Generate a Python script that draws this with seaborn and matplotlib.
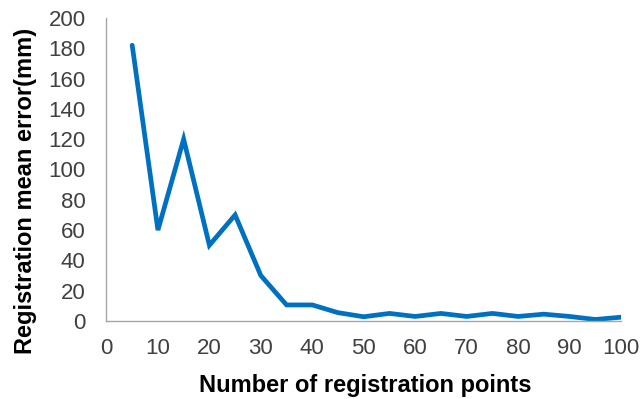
import matplotlib
matplotlib.use("Agg")
import matplotlib.pyplot as plt
import seaborn as sns
import pandas as pd

# Registration points and resulting mean error
points = [5, 10, 15, 20, 25, 30, 35, 40, 45, 50, 55, 60, 65, 70, 75, 80, 85, 90, 95, 100]
errors = [182, 60, 120, 50, 70, 30, 10.6, 10.6, 5.5, 2.8, 5, 3, 5, 3, 5, 3, 4.5, 3, 1, 2.5]
x_ticks = list(range(0, 101, 10))
y_ticks = list(range(0, 201, 20))

sns.set_style("white")
plt.rcParams["font.family"] = ["Liberation Sans", "DejaVu Sans"]

df = pd.DataFrame({"points": points, "error": errors})

fig = plt.figure(figsize=(6.41, 3.99), dpi=100)
ax = fig.add_axes([0.1661, 0.1955, 0.8027, 0.7594])

sns.lineplot(data=df, x="points", y="error", ax=ax, color="#0070C0",
             linewidth=3.4, solid_joinstyle="miter")

ax.set_xlim(0, 100)
ax.set_ylim(0, 200)
ax.set_xticks(x_ticks)
ax.set_yticks(y_ticks)
ax.tick_params(axis="both", direction="in", length=5, width=1, color="#a6a6a6",
               labelsize=16, labelcolor="#404040")
ax.tick_params(axis="x", pad=12)
ax.tick_params(axis="y", pad=15)

for side in ("top", "right"):
    ax.spines[side].set_visible(False)
for side in ("left", "bottom"):
    ax.spines[side].set_color("#a6a6a6")
    ax.spines[side].set_linewidth(1)

ax.set_xlabel("Number of registration points", fontsize=17, fontweight="bold",
              color="#000000")
ax.set_ylabel("Registration mean error(mm)", fontsize=17, fontweight="bold",
              color="#000000")
ax.xaxis.label.set_va("baseline")
ax.xaxis.set_label_coords(0.503, -0.234)
ax.yaxis.label.set_va("baseline")
ax.yaxis.set_label_coords(-0.1448, 0.429)

fig.savefig("out.png", dpi=100)
